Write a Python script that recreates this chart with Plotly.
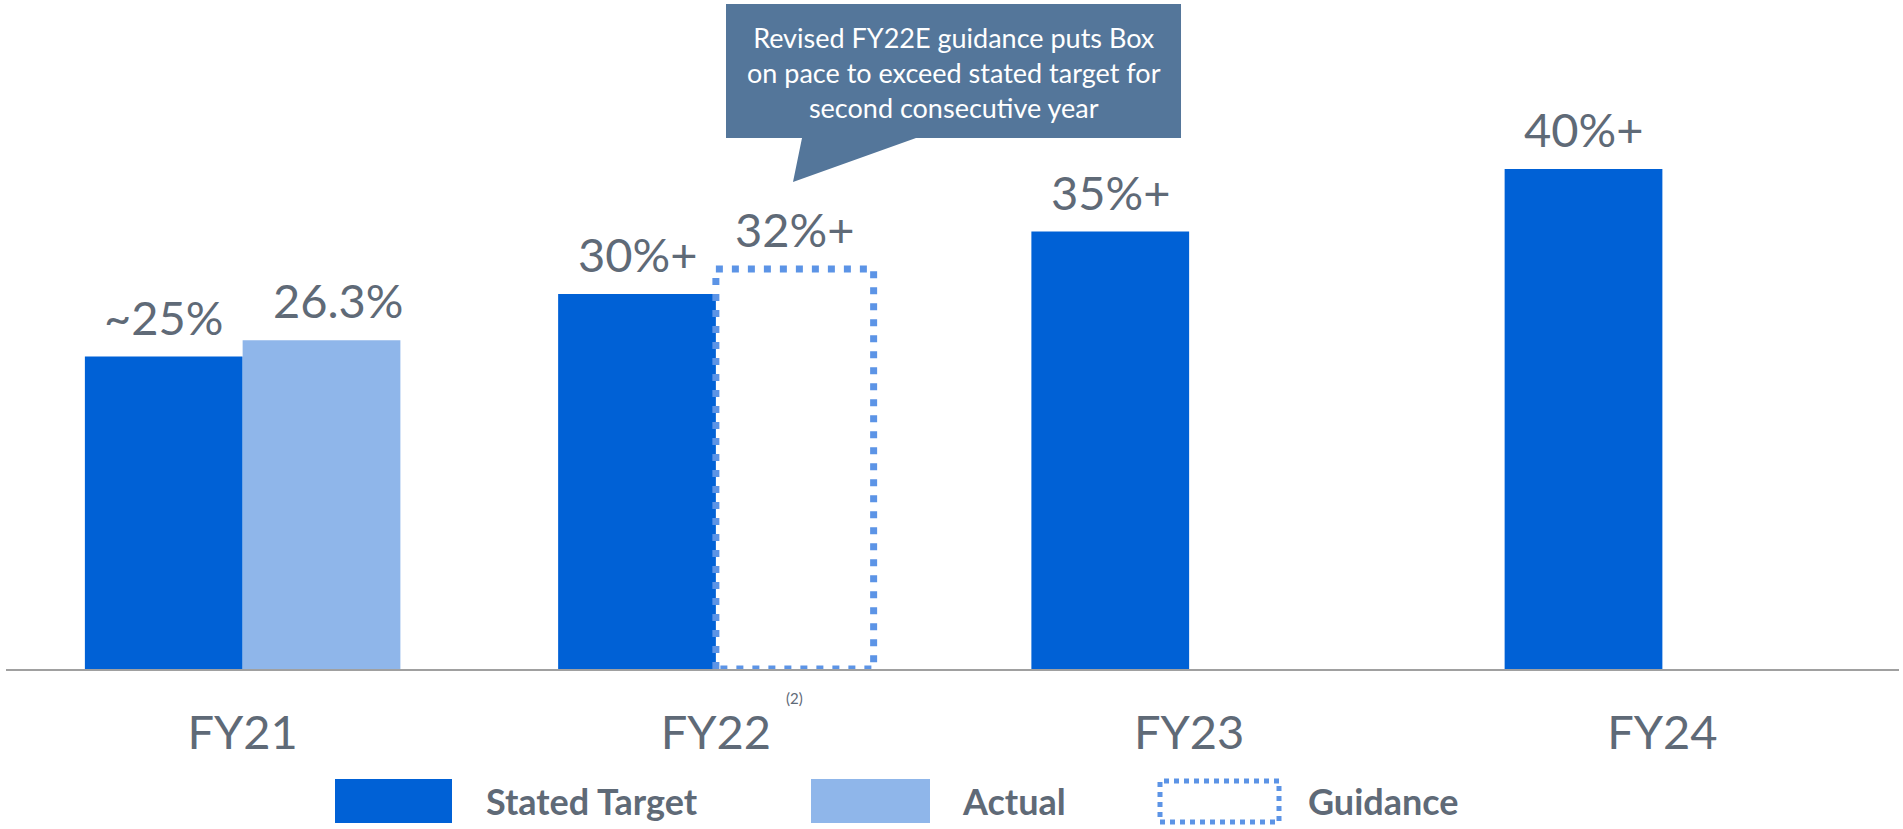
import plotly.graph_objects as go

# ---------------- data ----------------
categories = ["FY21", "FY22", "FY23", "FY24"]
stated_target = [25, 30, 35, 40]
stated_labels = ["~25%", "30%+", "35%+", "40%+"]
actual_cat = ["FY21"]
actual_values = [26.3]
actual_labels = ["26.3%"]
guidance_cat = ["FY22"]
guidance_values = [32]
guidance_labels = ["32%+"]
legend_names = ["Stated Target", "Actual", "Guidance"]
callout_text = "Revised FY22E guidance puts Box<br>on pace to exceed stated target for<br>second consecutive year"

# ---------------- style ----------------
C_STATED = "#0061D6"
C_ACTUAL = "#8FB6EA"
C_GUIDE = "#5C94E6"
C_TEXT = "#5F6A77"
C_CALLOUT = "#54769A"
FONT = "Lato"

W, H = 1903, 829
ML, MR, MT, MB = 6, 4, 0, 160
PL, PR, PT, PB = ML, W - MR, MT, H - MB


def px(x):
    return (x - PL) / (PR - PL)


def py(y):
    return (PB - y) / (PB - PT)


idx = {c: i for i, c in enumerate(categories)}
BW = 1 / 3

fig = go.Figure()

fig.add_trace(go.Bar(
    x=[idx[c] for c in categories], y=stated_target, width=BW, offset=-BW,
    marker=dict(color=C_STATED, line=dict(width=0)), name=legend_names[0],
    showlegend=False,
))
fig.add_trace(go.Bar(
    x=[idx[c] for c in actual_cat], y=actual_values, width=BW, offset=0,
    marker=dict(color=C_ACTUAL, line=dict(width=0)), name=legend_names[1],
    showlegend=False,
))

# guidance: dotted outline rectangle built from the data
for c, v in zip(guidance_cat, guidance_values):
    i = idx[c]
    fig.add_trace(go.Scatter(
        x=[i, i, i + BW, i + BW, i], y=[0, v, v, 0, 0], mode="lines",
        line=dict(color=C_GUIDE, width=7, dash="7px,9px"),
        name=legend_names[2], showlegend=False, hoverinfo="skip",
    ))

LBL_FONT = dict(family=FONT, size=47, color=C_TEXT)
annotations = []
# data labels
for c, v, t in zip(categories, stated_target, stated_labels):
    annotations.append(dict(x=idx[c] - BW / 2, y=v, xref="x", yref="y", text=t,
                            showarrow=False, xanchor="center", yanchor="bottom",
                            yshift=10, font=LBL_FONT))
for c, v, t in zip(actual_cat, actual_values, actual_labels):
    annotations.append(dict(x=idx[c] + BW / 2, y=v, xref="x", yref="y", text=t,
                            showarrow=False, xanchor="center", yanchor="bottom",
                            yshift=10, xshift=17, font=LBL_FONT))
for c, v, t in zip(guidance_cat, guidance_values, guidance_labels):
    annotations.append(dict(x=idx[c] + BW / 2, y=v, xref="x", yref="y", text=t,
                            showarrow=False, xanchor="center", yanchor="bottom",
                            yshift=10, font=LBL_FONT))

# footnote marker
annotations.append(dict(x=px(794), y=py(698), xref="paper", yref="paper", text="(2)",
                        showarrow=False, xanchor="center", yanchor="middle",
                        font=dict(family=FONT, size=15, color=C_TEXT)))

# callout text
annotations.append(dict(x=px(954), y=py(73), xref="paper", yref="paper", text=callout_text,
                        showarrow=False, align="center", xanchor="center", yanchor="middle",
                        font=dict(family=FONT, size=27, color="white")))

# legend texts
for name, lx in zip(legend_names, [484, 960, 1306]):
    annotations.append(dict(x=px(lx), y=py(801), xref="paper", yref="paper", text=name,
                            showarrow=False, xanchor="left", yanchor="middle",
                            font=dict(family=FONT, size=36, color=C_TEXT, weight="bold")))

shapes = []
# callout balloon
pts = [(726, 4), (1181, 4), (1181, 138), (916, 138), (793, 182), (802, 138), (726, 138)]
path = "M " + " L ".join(f"{px(a):.5f},{py(b):.5f}" for a, b in pts) + " Z"
shapes.append(dict(type="path", path=path, xref="paper", yref="paper",
                   fillcolor=C_CALLOUT, line=dict(width=0), layer="above"))
# legend swatches
shapes.append(dict(type="rect", xref="paper", yref="paper", x0=px(335), x1=px(452),
                   y0=py(823), y1=py(779), fillcolor=C_STATED, line=dict(width=0)))
shapes.append(dict(type="rect", xref="paper", yref="paper", x0=px(811), x1=px(930),
                   y0=py(823), y1=py(779), fillcolor=C_ACTUAL, line=dict(width=0)))
shapes.append(dict(type="rect", xref="paper", yref="paper", x0=px(1160), x1=px(1279),
                   y0=py(822), y1=py(781), fillcolor="rgba(0,0,0,0)",
                   line=dict(color=C_GUIDE, width=5, dash="5px,5px")))

fig.update_layout(
    width=W, height=H,
    margin=dict(l=ML, r=MR, t=MT, b=MB, pad=0),
    paper_bgcolor="white", plot_bgcolor="white",
    barmode="overlay",
    showlegend=False,
    annotations=annotations,
    shapes=shapes,
    xaxis=dict(range=[-0.5, 3.5], tickmode="array",
               tickvals=list(range(len(categories))), ticktext=categories,
               showgrid=False, zeroline=False, showline=True, linecolor="#A0A0A0",
               linewidth=2, ticks="", ticklabelstandoff=22,
               tickfont=dict(family=FONT, size=47, color=C_TEXT), fixedrange=True),
    yaxis=dict(range=[0, (PB - PT) / 12.5], showgrid=False, zeroline=False,
               showticklabels=False, ticks="", showline=False, fixedrange=True),
)

fig.write_html("out.html", config={"displayModeBar": False})
